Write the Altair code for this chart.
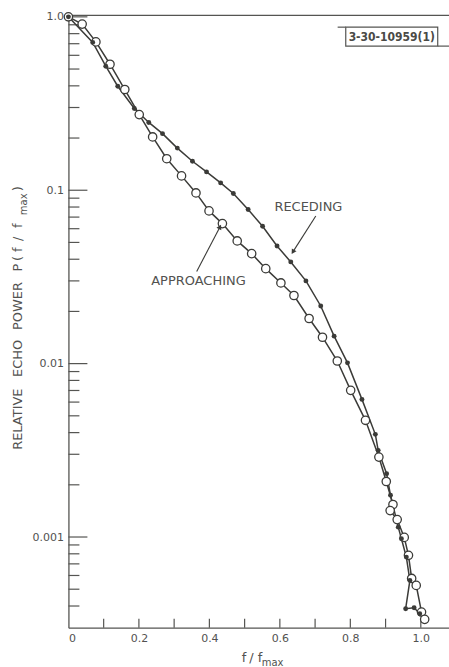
import altair as alt
import pandas as pd

# Receding echo: normalised frequency and relative echo power (filled dots)
rec_f = [0.0, 0.069, 0.106, 0.140, 0.187, 0.228, 0.267, 0.309, 0.352, 0.392,
         0.432, 0.468, 0.510, 0.551, 0.592, 0.631, 0.674, 0.716, 0.754, 0.792,
         0.833, 0.871, 0.879, 0.903, 0.914, 0.936, 0.945, 0.959, 0.969, 0.957,
         0.981, 0.997]
rec_p = [1.0, 0.712, 0.519, 0.398, 0.296, 0.246, 0.212, 0.175, 0.147, 0.1276,
         0.1102, 0.0957, 0.0774, 0.0620, 0.0477, 0.0386, 0.0300, 0.0215, 0.0144, 0.0101,
         0.00622, 0.00391, 0.00316, 0.00232, 0.00174, 0.00114, 0.000977, 0.000766, 0.000562, 0.000386,
         0.000391, 0.000361]

# Approaching echo (open circles)
app_f = [0.0, 0.039, 0.078, 0.118, 0.160, 0.201, 0.239, 0.279, 0.321, 0.362,
         0.399, 0.437, 0.479, 0.520, 0.560, 0.603, 0.640, 0.683, 0.721, 0.763,
         0.801, 0.843, 0.881, 0.902, 0.921, 0.913, 0.933, 0.953, 0.965, 0.974,
         0.987, 1.002, 1.011]
app_p = [1.0, 0.908, 0.717, 0.533, 0.381, 0.273, 0.203, 0.152, 0.121, 0.0965,
         0.0760, 0.0642, 0.0510, 0.0431, 0.0353, 0.0292, 0.0247, 0.0182, 0.0142, 0.01035,
         0.00701, 0.00471, 0.00289, 0.00209, 0.00154, 0.00142, 0.00126, 0.000995, 0.000784, 0.000577,
         0.000526, 0.000369, 0.000335]

# Axis ticks and labels
y_major = [1.0, 0.1, 0.01, 0.001]
y_labels = ["1.0", "0.1", "0.01", "0.001"]
y_minor_mult = [2, 3, 4, 5, 6, 7, 8, 9]
y_minor = [m * d for d in [0.1, 0.01, 0.001] for m in y_minor_mult] + \
          [m * 0.0001 for m in [4, 5, 6, 7, 8, 9]]
x_ticks = [0.1, 0.2, 0.3, 0.4, 0.5, 0.6, 0.7, 0.8, 0.9, 1.0]
x_labels = [0, 0.2, 0.4, 0.6, 0.8, 1.0]

W, H = 381, 613
INK = "#3b3b38"
AX = "#555552"
TXT = "#525250"
FONT = "DejaVu Sans"

xs = alt.Scale(domain=[0, 1.08], nice=False, zero=False)
ys = alt.Scale(type="log", domain=[0.0003, 1.02], nice=False)

label_expr_y = " : ".join(
    [f"datum.value >= {v * 0.5} ? '{t}'" for v, t in zip(y_major[:-1], y_labels[:-1])]
) + f" : '{y_labels[-1]}'"

XAX = alt.Axis(values=x_labels, ticks=False, tickSize=0, grid=False,
               labelExpr="datum.value == 0 ? '0' : format(datum.value, '.1f')",
               labelFont=FONT, labelFontSize=11, labelColor=TXT, labelPadding=5,
               domainColor=AX, domainWidth=1.3)
YAX = alt.Axis(values=y_major, ticks=False, tickSize=0, grid=False,
               labelExpr=label_expr_y,
               labelFont=FONT, labelFontSize=11, labelColor=TXT, labelPadding=5,
               labelFlush=False, domainColor=AX, domainWidth=1.3)

X = alt.X("f:Q", scale=xs, axis=XAX, title=None)
Y = alt.Y("p:Q", scale=ys, axis=YAX, title=None)

rec = pd.DataFrame({"f": rec_f, "p": rec_p, "i": range(len(rec_f))})
app = pd.DataFrame({"f": app_f, "p": app_p, "i": range(len(app_f))})

rec_line = alt.Chart(rec).mark_line(color=INK, strokeWidth=1.5).encode(x=X, y=Y, order="i:Q")
app_line = alt.Chart(app).mark_line(color=INK, strokeWidth=1.5).encode(x=X, y=Y, order="i:Q")
app_pts = alt.Chart(app).mark_point(shape="circle", filled=True, fill="white", stroke=INK,
                                    strokeWidth=1.3, size=70, opacity=1).encode(x=X, y=Y)
rec_pts = alt.Chart(rec).mark_point(shape="circle", filled=True, color=INK, size=24,
                                    opacity=1).encode(x=X, y=Y)

# Frame line across the top and inward ticks
top_line = alt.Chart(pd.DataFrame({"a": [0]})).mark_rule(color=AX, strokeWidth=1.3).encode(
    x=alt.value(0), x2=alt.value(W), y=alt.value(0))
major_ticks = alt.Chart(pd.DataFrame({"p": y_major})).mark_rule(color=AX, strokeWidth=1.2).encode(
    y=Y, x=alt.value(0), x2=alt.value(19))
minor_ticks = alt.Chart(pd.DataFrame({"p": y_minor})).mark_rule(color=AX, strokeWidth=1.2).encode(
    y=Y, x=alt.value(0), x2=alt.value(11))
xtick_marks = alt.Chart(pd.DataFrame({"f": x_ticks})).mark_rule(color=AX, strokeWidth=1.2).encode(
    x=X, y=alt.value(H), y2=alt.value(H - 9))

# Curve annotations
notes = pd.DataFrame({"f": [0.681, 0.369], "p": [0.080, 0.0298], "t": ["RECEDING", "APPROACHING"]})
note_text = alt.Chart(notes).mark_text(font=FONT, fontSize=13, color=TXT, align="center",
                                       baseline="middle").encode(x=X, y=Y, text="t:N")
arrows = pd.DataFrame({"f": [0.702, 0.364], "p": [0.0710, 0.0340],
                       "f2": [0.637, 0.430], "p2": [0.0441, 0.0614], "ang": [212.6, 27.4]})
arrow_lines = alt.Chart(arrows).mark_rule(color=INK, strokeWidth=1.1).encode(
    x=X, y=Y, x2="f2:Q", y2="p2:Q")
arrow_heads = alt.Chart(arrows).mark_point(shape="triangle-up", filled=True, color=INK, size=30,
                                           opacity=1).encode(
    x=alt.X("f2:Q", scale=xs, axis=XAX, title=None),
    y=alt.Y("p2:Q", scale=ys, axis=YAX, title=None),
    angle=alt.Angle("ang:Q", scale=None))

# Drawing number box in the top corner, with its top edge run out to the left
# and its bottom edge run out to the right
box = pd.DataFrame({"f": [0.787], "f2": [1.048], "p": [0.872], "p2": [0.678]})
box_rect = alt.Chart(box).mark_rect(fill="white", stroke=AX, strokeWidth=1.2).encode(
    x=X, x2="f2:Q", y=Y, y2="p2:Q")
box_ext = pd.DataFrame({"f": [0.764, 1.048], "f2": [0.787, 1.08], "p": [0.872, 0.678]})
box_lines = alt.Chart(box_ext).mark_rule(color=AX, strokeWidth=1.2).encode(
    x=X, x2="f2:Q", y=Y)
box_text = alt.Chart(pd.DataFrame({"f": [0.9175], "p": [0.769], "t": ["3-30-10959(1)"]})).mark_text(
    font="DejaVu Sans Condensed", fontWeight="bold", fontSize=12, color="#4a4a46",
    align="center", baseline="middle").encode(x=X, y=Y, text="t:N")

# Vertical axis title, lettered from the bottom up
yt = pd.DataFrame({
    "t": ["RELATIVE", "ECHO", "POWER", "P", "(", "f", "/", "f", "max", ")"],
    "x": [-50.5, -50.5, -50.5, -50.5, -50.5, -50.5, -50.5, -50.5, -44.0, -50.5],
    "y": [435.0, 362.0, 315.0, 256.5, 246.0, 237.0, 226.0, 213.0, 200.0, 176.0],
    "s": [13, 13, 13, 13, 13, 13, 13, 13, 10, 13],
})
ytitle = alt.Chart(yt).mark_text(font=FONT, color=TXT, angle=270, align="left",
                                 baseline="middle").encode(
    x=alt.X("x:Q", scale=None, axis=None), y=alt.Y("y:Q", scale=None, axis=None),
    text="t:N", size=alt.Size("s:Q", scale=None))

# Horizontal axis title f/f_max
xt = pd.DataFrame({
    "t": ["f", "/", "f", "max"],
    "x": [173.5, 181.0, 189.5, 193.5],
    "y": [H + 34, H + 34, H + 34, H + 38],
    "s": [13, 13, 13, 10],
})
xtitle = alt.Chart(xt).mark_text(font=FONT, color=TXT, align="left",
                                 baseline="alphabetic").encode(
    x=alt.X("x:Q", scale=None, axis=None), y=alt.Y("y:Q", scale=None, axis=None),
    text="t:N", size=alt.Size("s:Q", scale=None))

chart = alt.layer(
    top_line, major_ticks, minor_ticks, xtick_marks,
    rec_line, app_line, app_pts, rec_pts,
    arrow_lines, arrow_heads, note_text,
    box_lines, box_rect, box_text,
    ytitle, xtitle,
).resolve_scale(x="shared", y="shared").properties(
    width=W, height=H,
    autosize=alt.AutoSizeParams(type="none"),
    padding={"left": 68.5, "top": 15, "right": 0, "bottom": 39},
    background="white",
).configure_view(stroke=None)

chart.save("out.html", embed_options={"renderer": "svg", "actions": False})
